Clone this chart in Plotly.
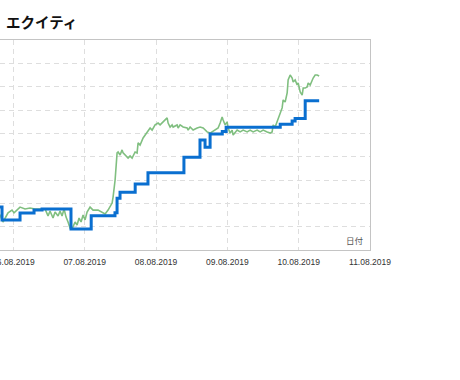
import pandas as pd
import plotly.graph_objects as go

base = pd.Timestamp("2019-08-06 00:00")

# Balance (step line): hours from 06.08.2019 00:00 and value
balance_hours = [-6.2, -3.8, 2.26, 6.97, 9.66, 19.4, 26.2, 34.2, 34.9, 35.9, 41.0, 45.3,
                 57.4, 62.8, 64.5, 66.2, 70.3, 71.6, 89.8, 93.8, 94.8, 98.2, 102.9]
balance_values = [1084, 1029, 1059, 1071, 1076, 990, 1047, 1060, 1122, 1147, 1183, 1231,
                  1297, 1371, 1340, 1397, 1408, 1426, 1439, 1453, 1464, 1540, 1540]

# Equity: hours from 06.08.2019 00:00 and value
equity_hours = [-6.16, -4.48, -3.47, -1.78, -0.44, 0.24, 2.26, 3.94, 5.62, 7.31, 10.67, 11.68,
                12.35, 13.36, 14.04, 15.05, 15.72, 16.39, 17.07, 17.74, 18.41, 19.09, 19.76,
                20.77, 21.45, 22.12, 22.79, 23.47, 24.14, 24.81, 25.82, 26.83, 28.51, 30.87,
                31.88, 33.23, 33.56, 34.24, 34.91, 35.25, 35.92, 36.59, 36.93, 37.6, 38.61,
                39.28, 39.96, 40.97, 41.64, 41.98, 42.65, 43.66, 45.01, 46.02, 46.69, 47.7,
                48.71, 49.38, 50.39, 51.07, 51.74, 52.08, 52.75, 53.42, 53.76, 55.1, 55.44,
                56.11, 57.12, 58.47, 58.81, 59.48, 60.49, 61.84, 62.85, 63.86, 65.2, 66.21,
                66.88, 67.89, 68.9, 69.58, 70.25, 70.59, 71.26, 71.93, 72.27, 72.94, 73.61,
                73.95, 74.62, 75.3, 76.31, 77.32, 78.66, 79.67, 80.68, 82.03, 83.04, 84.05,
                85.4, 86.4, 87.08, 87.42, 88.09, 88.76, 89.1, 89.77, 90.44, 90.78, 91.45,
                92.13, 92.46, 93.14, 93.81, 94.15, 94.82, 95.5, 95.83, 96.51, 97.18, 97.52,
                98.19, 98.86, 99.2, 99.87, 100.54, 100.88, 101.55, 102.22, 102.9]
equity_values = [1063, 1050, 1020, 1059, 1071, 1059, 1084, 1076, 1080, 1076, 1076, 1046,
                 1067, 1037, 1063, 1046, 1067, 1046, 1076, 1041, 1020, 994, 990,
                 1020, 1007, 1037, 1020, 1050, 1029, 1063, 1084, 1071, 1071, 1054,
                 1071, 1101, 1127, 1200, 1316, 1320, 1307, 1329, 1316, 1307, 1294,
                 1303, 1294, 1320, 1316, 1359, 1350, 1380, 1406, 1423, 1414, 1436,
                 1444, 1436, 1449, 1457, 1466, 1444, 1427, 1436, 1427, 1436, 1423,
                 1436, 1427, 1423, 1414, 1427, 1414, 1423, 1427, 1423, 1406, 1401,
                 1406, 1414, 1423, 1444, 1470, 1457, 1436, 1449, 1423, 1401, 1414,
                 1393, 1406, 1414, 1406, 1414, 1406, 1414, 1406, 1414, 1406, 1414,
                 1406, 1401, 1406, 1436, 1427, 1449, 1466, 1487, 1509, 1543, 1534,
                 1573, 1629, 1650, 1637, 1620, 1629, 1607, 1616, 1577, 1564, 1594,
                 1594, 1599, 1616, 1607, 1629, 1637, 1650, 1650, 1646]

x_ticks_start = "2019-08-06"
x_range = ["2019-08-05 19:31", "2019-08-11 00:00"]
y_range = [900, 1800]

bal_t = [base + pd.Timedelta(hours=h) for h in balance_hours]
eq_t = [base + pd.Timedelta(hours=h) for h in equity_hours]

fig = go.Figure()
fig.add_trace(go.Scatter(x=eq_t, y=equity_values, mode="lines",
                         line=dict(color="#80bf80", width=1.6), name="エクイティ"))
fig.add_trace(go.Scatter(x=bal_t, y=balance_values, mode="lines", line_shape="hv",
                         line=dict(color="#0a6fd0", width=3), name="残高"))

fig.update_layout(
    width=460, height=380,
    margin=dict(l=0, r=90, t=40, b=130),
    paper_bgcolor="white", plot_bgcolor="white",
    showlegend=False,
    xaxis=dict(range=x_range, type="date", tick0=x_ticks_start, dtick=86400000,
               tickformat="%d.%m.%Y", showgrid=True, gridcolor="#dedede", griddash="5px,4px",
               gridwidth=1, showline=True, linecolor="#c4c4c4", linewidth=1, mirror=True,
               zeroline=False, ticks="", automargin=False, ticklabelstandoff=4,
               ticklabeloverflow="allow",
               tickfont=dict(family="Liberation Sans, Arial", size=8.5, color="#333333")),
    yaxis=dict(range=y_range, dtick=100, side="right", showticklabels=False,
               showgrid=True, gridcolor="#dedede", griddash="5px,4px", gridwidth=1,
               showline=True, linecolor="#c4c4c4", linewidth=1, zeroline=False,
               ticks="", automargin=False),
    annotations=[
        dict(text="<b>エクイティ</b>", xref="paper", yref="paper", x=0.012, y=1.086,
             xanchor="left", yanchor="middle", showarrow=False,
             font=dict(family="Noto Sans CJK JP", size=14.5, color="#111111")),
        dict(text="日付", xref="paper", yref="paper", x=1, y=0, xanchor="right",
             yanchor="bottom", xshift=-4, yshift=2, showarrow=False,
             font=dict(family="Noto Sans CJK JP", size=8.5, color="#555555")),
    ],
)

fig.write_html("out.html")
